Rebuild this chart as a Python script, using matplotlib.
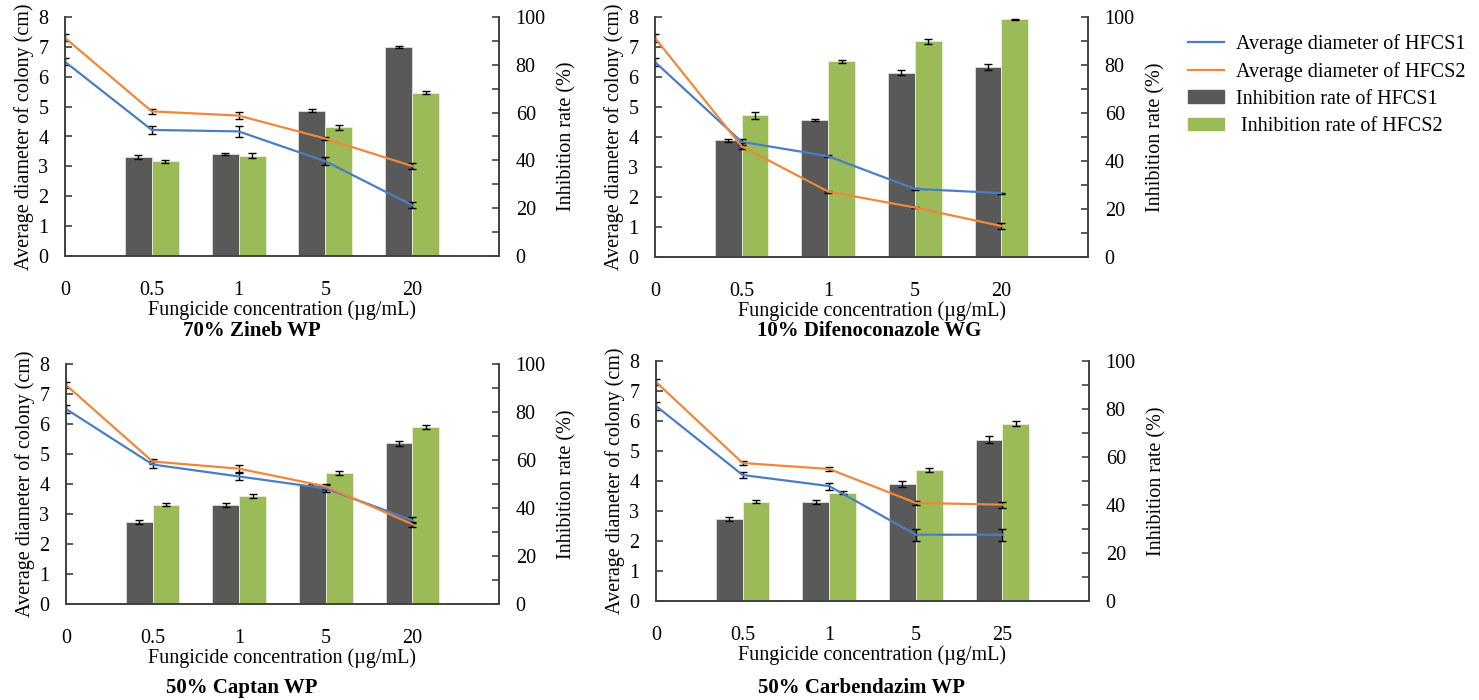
import numpy as np
import matplotlib.pyplot as plt
from matplotlib.lines import Line2D
from matplotlib.patches import Patch

plt.rcParams['font.family'] = ['Liberation Serif', 'DejaVu Serif']

# x categories (µg/mL)
conc_a = ['0', '0.5', '1', '5', '20']
conc_b = ['0', '0.5', '1', '5', '25']
titles = ['70% Zineb WP', '10% Difenoconazole WG', '50% Captan WP', '50% Carbendazim WP']

# average colony diameter (cm), at 0 .. highest concentration
dia1 = [[6.5, 4.22, 4.17, 3.17, 1.70],
        [6.5, 3.84, 3.36, 2.27, 2.13],
        [6.5, 4.65, 4.25, 3.85, 2.79],
        [6.5, 4.20, 3.83, 2.21, 2.21]]
dia1_err = [[0.12, 0.12, 0.18, 0.13, 0.10],
            [0.12, 0.10, 0.03, 0.02, 0.02],
            [0.12, 0.12, 0.12, 0.12, 0.10],
            [0.12, 0.10, 0.12, 0.20, 0.20]]
dia2 = [[7.3, 4.84, 4.70, 3.93, 3.01],
        [7.3, 3.69, 2.18, 1.65, 1.03],
        [7.3, 4.75, 4.51, 3.92, 2.66],
        [7.3, 4.60, 4.40, 3.27, 3.21]]
dia2_err = [[0.12, 0.08, 0.12, 0.06, 0.10],
            [0.12, 0.10, 0.03, 0.02, 0.10],
            [0.10, 0.08, 0.12, 0.08, 0.08],
            [0.10, 0.06, 0.07, 0.08, 0.10]]

# inhibition rate (%), from 0.5 upward
inh1 = [[41.5, 42.6, 60.8, 87.4],
        [48.7, 57.2, 76.8, 79.3],
        [34.1, 41.4, 49.5, 67.0],
        [34.3, 41.4, 48.8, 67.2]]
inh1_err = [[0.8, 0.3, 0.6, 0.5],
            [0.6, 0.5, 1.0, 1.2],
            [0.8, 0.8, 0.5, 1.0],
            [0.8, 0.8, 1.2, 1.5]]
inh2 = [[39.7, 41.9, 53.9, 68.4],
        [59.0, 81.5, 89.8, 99.1],
        [41.3, 45.0, 54.7, 73.8],
        [41.3, 45.2, 54.7, 73.9]]
inh2_err = [[0.6, 1.0, 1.0, 0.5],
            [1.4, 0.6, 1.2, 0.2],
            [0.6, 1.0, 0.8, 0.8],
            [0.6, 0.5, 0.8, 0.9]]

blue = '#4A7EC2'
orange = '#F0873A'
dark = '#595959'
green = '#9BBB59'
axc = '#404040'
fs = 14.5

W, H = 1479, 700
fig = plt.figure(figsize=(W / 100, H / 100), dpi=100)

# panel boxes in pixels: left, right, top, bottom
boxes = [(65, 499, 17, 256), (655, 1088, 17, 257), (66, 499, 364, 604), (656, 1089, 361, 601)]
title_pos = [(252, 331), (869, 331), (242, 688), (861, 688)]

for i in range(4):
    l, r, t, b = boxes[i]
    ax = fig.add_axes([l / W, 1 - b / H, (r - l) / W, (b - t) / H])
    ax2 = ax.twinx()
    ax.set_zorder(ax2.get_zorder() + 1)
    ax.patch.set_visible(False)

    labels = conc_b if i == 3 else conc_a
    x = np.arange(len(labels))
    xb = x[1:]
    bw = 0.31
    ax2.bar(xb - bw / 2, inh1[i], bw, color=dark, edgecolor='#dddddd', linewidth=0.6,
            yerr=inh1_err[i], error_kw=dict(ecolor='black', elinewidth=1, capsize=3, capthick=1))
    ax2.bar(xb + bw / 2, inh2[i], bw, color=green, edgecolor='#e8f0d8', linewidth=0.6,
            yerr=inh2_err[i], error_kw=dict(ecolor='black', elinewidth=1, capsize=3, capthick=1))
    ax2.set_ylim(0, 100)
    ax2.set_yticks(np.arange(0, 101, 20))
    ax2.set_yticks(np.arange(10, 100, 20), minor=True)

    ax.errorbar(x, dia1[i], yerr=dia1_err[i], color=blue, lw=1.6, ecolor='black',
                elinewidth=1, capsize=3, capthick=1)
    ax.errorbar(x, dia2[i], yerr=dia2_err[i], color=orange, lw=1.6, ecolor='black',
                elinewidth=1, capsize=3, capthick=1)
    ax.set_ylim(0, 8)
    ax.set_xlim(0, 5)
    ax.set_yticks(range(0, 9))
    ax.set_xticks(x)
    ax.set_xticklabels(labels)

    for a in (ax, ax2):
        a.spines['top'].set_visible(False)
        for s in ('left', 'right', 'bottom'):
            a.spines[s].set_color(axc)
            a.spines[s].set_linewidth(1.2)
    ax.tick_params(axis='y', direction='in', length=5, width=1.2, color=axc, labelsize=fs, pad=12)
    ax.tick_params(axis='x', length=0, labelsize=fs, pad=18)
    ax2.tick_params(axis='y', which='both', direction='in', length=5, width=1.2, color=axc,
                    labelsize=fs, pad=12)

    ax.set_xlabel('Fungicide concentration (µg/mL)', fontsize=fs, labelpad=0)
    ax.set_ylabel('Average diameter of colony (cm)', fontsize=fs, labelpad=3)
    ax2.set_ylabel('Inhibition rate (%)', fontsize=fs, labelpad=8)

    tx, ty = title_pos[i]
    fig.text(tx / W, 1 - ty / H, titles[i], fontsize=15, fontweight='bold',
             ha='center', va='center')

handles = [Line2D([], [], color=blue, lw=1.6),
           Line2D([], [], color=orange, lw=1.6),
           Patch(color=dark),
           Patch(color=green)]
names = ['Average diameter of HFCS1', 'Average diameter of HFCS2',
         'Inhibition rate of HFCS1', ' Inhibition rate of HFCS2']
fig.legend(handles, names, loc='upper left', bbox_to_anchor=(1180 / W, 1 - 26 / H),
           frameon=False, fontsize=fs, handlelength=1.8, handleheight=0.6,
           labelspacing=0.4, handletextpad=0.6, borderaxespad=0)

fig.savefig('out.png', dpi=100)
